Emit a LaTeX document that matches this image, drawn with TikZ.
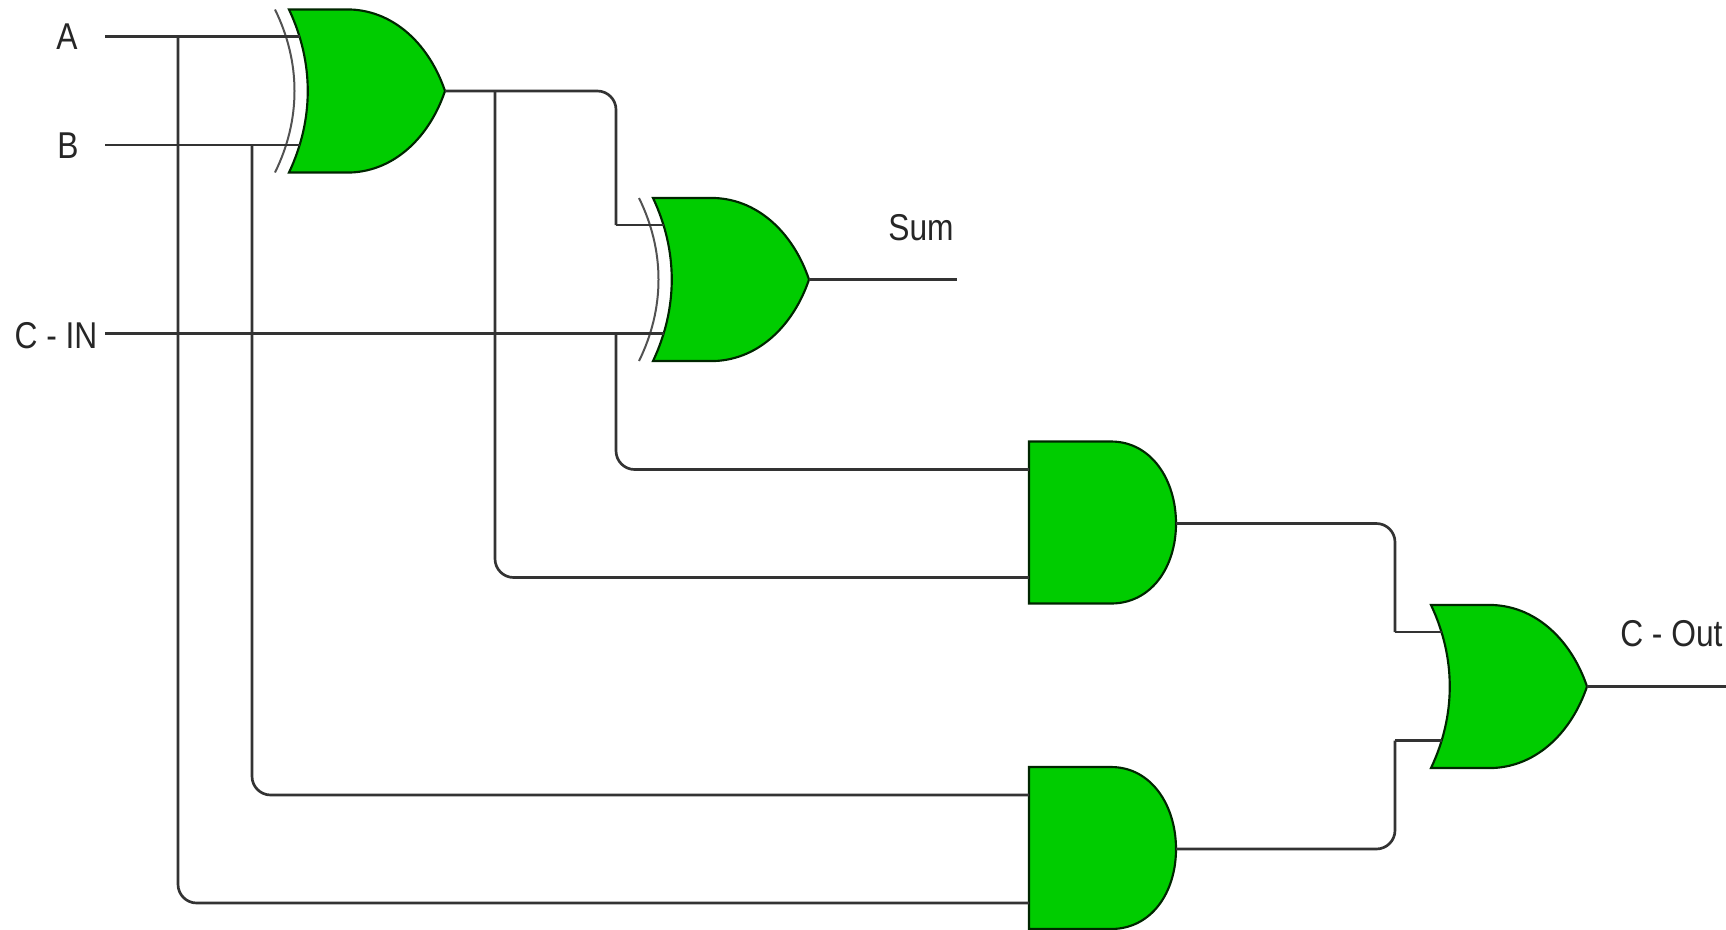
\documentclass[tikz,border=0pt]{standalone}
\usepackage{fontspec}
\setmainfont[FakeStretch=0.85]{Liberation Sans}
\definecolor{gatefill}{HTML}{00CC00}
\definecolor{inkline}{HTML}{333333}
\tikzset{
  wire/.style={draw=inkline,line width=2pt},
  gateline/.style={draw=black!85!green,line width=1.6pt,fill=gatefill,line join=miter},
  arcline/.style={draw=inkline!85,line width=1.5pt},
  lbl/.style={font=\fontsize{28}{30}\selectfont,text=black!85,inner sep=0pt},
  orgate/.pic={
    \path[gateline] (0,0) -- (62,0) .. controls (107,2) and (141,37) .. (156,81.5)
      .. controls (141,126) and (107,161) .. (62,163) -- (0,163)
      .. controls (25,110) and (25,53) .. cycle;
    \coordinate (-a) at (11,27);
    \coordinate (-b) at (11,135.5);
    \coordinate (-o) at (156,81.5);
  },
  xorgate/.pic={
    \path[gateline] (0,0) -- (62,0) .. controls (107,2) and (141,37) .. (156,81.5)
      .. controls (141,126) and (107,161) .. (62,163) -- (0,163)
      .. controls (25,110) and (25,53) .. cycle;
    \draw[arcline] (-14,0) .. controls (12,53) and (12,110) .. (-14,163);
    \coordinate (-a) at (11,27);
    \coordinate (-b) at (11,135.5);
    \coordinate (-o) at (156,81.5);
  },
  andgate/.pic={
    \path[gateline] (0,0) -- (82,0) .. controls (122,0) and (147,38) .. (147,82)
      .. controls (147,126) and (122,162) .. (82,162) -- (0,162) -- cycle;
    \coordinate (-a) at (0,28);
    \coordinate (-b) at (0,136);
    \coordinate (-o) at (147,82);
  }
}
\begin{document}
\begin{tikzpicture}[x=0.75pt,y=-0.75pt]
\useasboundingbox (0,0) rectangle (1726,929);
\pic (xa) at (289,9.5) {xorgate};
\pic (xb) at (653,198) {xorgate};
\pic (ga) at (1029,441.5) {andgate};
\pic (gb) at (1029,767) {andgate};
\pic (oc) at (1431,605) {orgate};
\node[lbl] (la) at (67,37) {A};
\node[lbl] (lb) at (68,146) {B};
\node[lbl] (lc) at (56,336) {C - IN};
\node[lbl] (ls) at (921,228) {Sum};
\node[lbl,anchor=west] (lo) at (1620,634) {C - Out};
\coordinate (ia) at (105,36.5);
\coordinate (ib) at (105,145);
\coordinate (ic) at (105,333.5);
\coordinate (ja) at (178,36.5);
\coordinate (jb) at (252,145);
\coordinate (jx) at (495,91);
\coordinate (jc) at (616,333.5);
\coordinate (cy) at (616,225);
\coordinate (ms) at (957,279.5);
\coordinate (mo) at (1726,686.5);
\coordinate (pa) at (1395,632);
\coordinate (pb) at (1395,740.5);
% inputs
\draw[wire] (ia) -- (xa-a);
\draw[wire] (ib) -- (xa-b);
\draw[wire] (ic) -- (xb-b);
% branches of the inputs
\draw[wire,rounded corners=14pt] (ja) |- (gb-b);
\draw[wire,rounded corners=14pt] (jb) |- (gb-a);
% first XOR output
\draw[wire,rounded corners=14pt] (xa-o) -| (cy);
\draw[wire] (cy) -- (xb-a);
\draw[wire,rounded corners=14pt] (jx) |- (ga-b);
\draw[wire,rounded corners=14pt] (jc) |- (ga-a);
% outputs
\draw[wire] (xb-o) -- (ms);
\draw[wire,rounded corners=14pt] (ga-o) -| (pa);
\draw[wire] (pa) -- (oc-a);
\draw[wire,rounded corners=14pt] (gb-o) -| (pb);
\draw[wire] (pb) -- (oc-b);
\draw[wire] (oc-o) -- (mo);
\end{tikzpicture}
\end{document}
